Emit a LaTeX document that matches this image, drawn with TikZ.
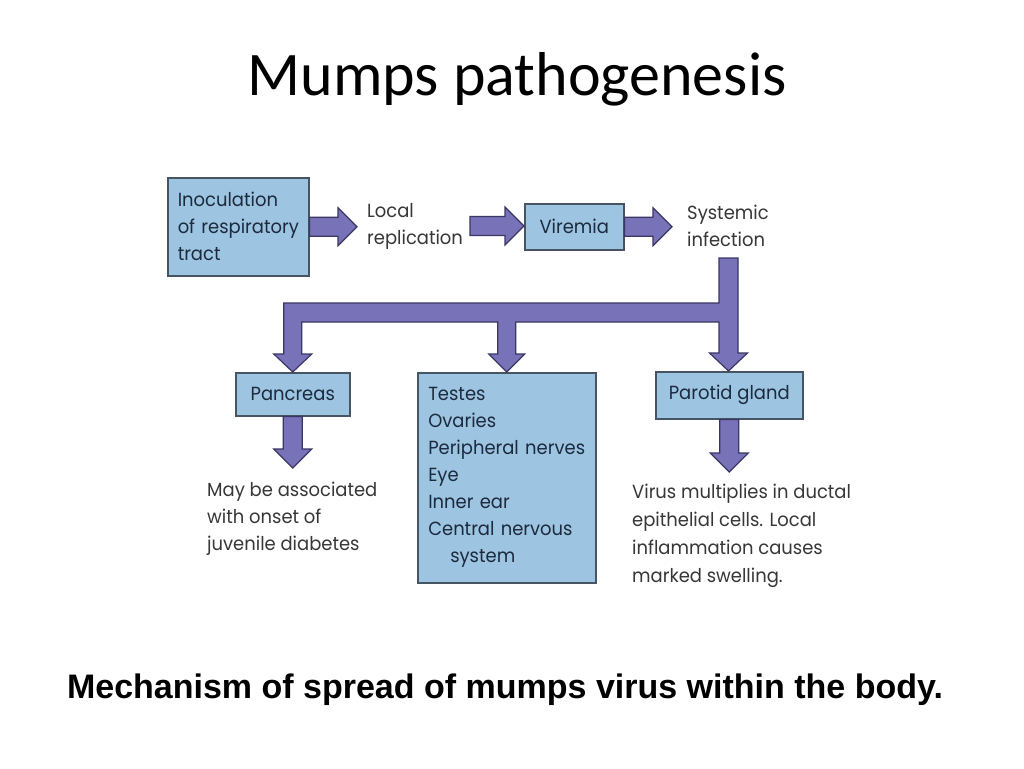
\documentclass[tikz,border=0pt]{standalone}
\usepackage{fontspec}
\setmainfont{Carlito}
\newfontfamily\fut[FakeStretch=0.945]{Poppins}
\newfontfamily\capfont{Liberation Sans}
\usetikzlibrary{calc}
\definecolor{boxfill}{RGB}{157,196,224}
\definecolor{boxline}{RGB}{70,84,100}
\definecolor{arrfill}{RGB}{120,114,184}
\definecolor{arrline}{RGB}{58,55,100}
\definecolor{boxtext}{RGB}{28,42,62}
\definecolor{freetext}{RGB}{55,55,55}
\newcommand\fatright[2]{%
  \draw[fat] let \p1=(#1), \p2=(#2) in
    (\x1,\y1+9.5pt) -- (\x2-19pt,\y1+9.5pt) -- (\x2-19pt,\y1+19pt) -- (\x2,\y1)
    -- (\x2-19pt,\y1-19pt) -- (\x2-19pt,\y1-9.5pt) -- (\x1,\y1-9.5pt) -- cycle;}
\newcommand\fatdown[2]{%
  \draw[fat] let \p1=(#1), \p2=(#2) in
    (\x1-9.5pt,\y1) -- (\x1-9.5pt,\y2+19pt) -- (\x1-19pt,\y2+19pt) -- (\x1,\y2)
    -- (\x1+19pt,\y2+19pt) -- (\x1+9.5pt,\y2+19pt) -- (\x1+9.5pt,\y1) -- cycle;}
\begin{document}
\begin{tikzpicture}[x=1pt,y=-1pt,
  box/.style={draw=boxline, line width=1.5pt, fill=boxfill, text=boxtext,
    font=\fut\fontsize{19}{27}\selectfont, inner sep=0pt, anchor=north west},
  free/.style={text=freetext, font=\fut\fontsize{19}{27}\selectfont,
    align=left, inner sep=0pt, anchor=west},
  fat/.style={draw=arrline, line width=1.2pt, fill=arrfill, line join=miter}]
\useasboundingbox (0,0) rectangle (1024,768);
\fill[white] (0,0) rectangle (1024,768);

\node[font=\fontsize{62}{70}\selectfont, anchor=base] (title) at (517,95) {Mumps pathogenesis};

\node[box, minimum width=141pt, minimum height=98pt, text width=121pt, align=left] (inoc) at (167,177)
  {Inoculation\\\mbox{of respiratory}\\tract};
\node[free] (local) at (367,226) {Local\\replication};
\node[box, minimum width=99pt, minimum height=46pt, align=center] (viremia) at (524,203) {Viremia};
\node[free] (systemic) at (687,226) {Systemic\\infection};

\node[box, minimum width=114pt, minimum height=43pt, align=center] (pancreas) at (235,372) {Pancreas};
\node[box, minimum width=178pt, minimum height=210pt, text width=157pt, align=left] (organs) at (417,372)
  {Testes\\Ovaries\\Peripheral nerves\\Eye\\Inner ear\\Central nervous\\\hspace*{22pt}system};
\node[box, minimum width=147pt, minimum height=47pt, align=center] (parotid) at (655,371) {Parotid gland};

\node[free, font=\fut\fontsize{19}{27}\selectfont] (diab) at (207,519)
  {May be associated\\with onset of\\juvenile diabetes};
\node[free, font=\fut\fontsize{19}{28}\selectfont] (swell) at (632,536)
  {Virus multiplies in ductal\\epithelial cells. Local\\inflammation causes\\marked swelling.};

\node[font=\capfont\bfseries\fontsize{34}{40}\selectfont, anchor=base] (caption) at (505,698)
  {Mechanism of spread of mumps virus within the body.};

% connectors
\coordinate (t1) at (357,226);
\coordinate (s2) at (470,226);
\coordinate (t3) at (672,226);
\coordinate (s4) at (728.5,258);
\coordinate (br) at (728.5,312.5);
\coordinate (t5) at (292,468);
\coordinate (t6) at (728.5,472);

\fatright{inoc.east}{t1}
\fatright{s2}{viremia.west}
\fatright{viremia.east}{t3}
\fatdown{pancreas.south}{t5}
\fatdown{parotid.south}{t6}

\draw[fat] let \p1=(s4), \p2=(pancreas.north), \p3=(organs.north), \p4=(parotid.north), \p5=(br) in
  (\x1+9.5pt,\y1) -- (\x1+9.5pt,\y4+18pt) -- (\x1+19pt,\y4+18pt) -- (\x1,\y4) -- (\x1-19pt,\y4+18pt)
  -- (\x1-9.5pt,\y4+18pt) -- (\x1-9.5pt,\y5-9.5pt)
  -- (\x3+9pt,\y5-9.5pt) -- (\x3+9pt,\y3+18pt) -- (\x3+18pt,\y3+18pt) -- (\x3,\y3)
  -- (\x3-18pt,\y3+18pt) -- (\x3-9pt,\y3+18pt) -- (\x3-9pt,\y5-9.5pt)
  -- (\x2+9pt,\y5-9.5pt) -- (\x2+9pt,\y2+18pt) -- (\x2+19pt,\y2+18pt) -- (\x2,\y2)
  -- (\x2-19pt,\y2+18pt) -- (\x2-9pt,\y2+18pt) -- (\x2-9pt,\y5+9.5pt)
  -- (\x1-9.5pt,\y5+9.5pt) -- (\x1-9.5pt,\y1) -- cycle;
\end{tikzpicture}
\end{document}
